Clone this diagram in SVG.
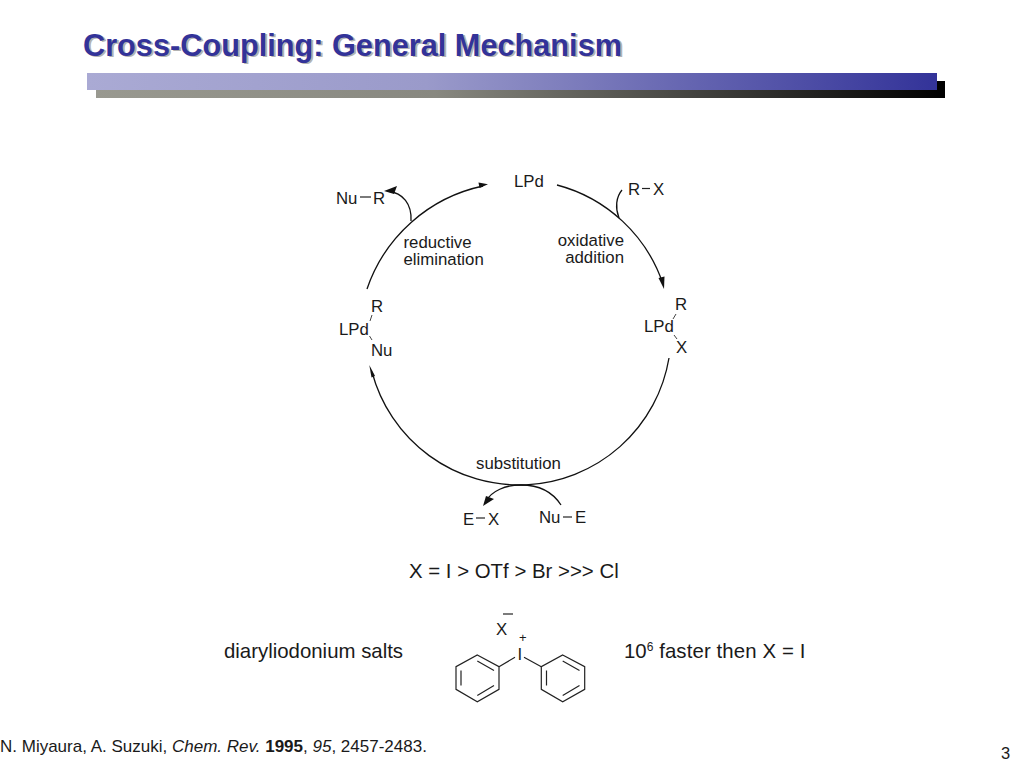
<svg xmlns="http://www.w3.org/2000/svg" width="1024" height="768" viewBox="0 0 1024 768">
<style>
text{font-family:"Liberation Sans",Arial,sans-serif;fill:#1a1a1a}
.s{font-size:16.800px}
.m{font-size:20.400px}
.l{fill:none;stroke:#111;stroke-width:1.3}
.b{fill:none;stroke:#222;stroke-width:1.2}
.t{fill:none;stroke:#444;stroke-width:1}
.h{fill:#111}
</style>
<defs>
<linearGradient id="g1"><stop offset="0" stop-color="#aaaad4"/><stop offset=".4" stop-color="#9a9aca"/><stop offset="1" stop-color="#333399"/></linearGradient>
<linearGradient id="g2"><stop offset="0" stop-color="#999990"/><stop offset=".4" stop-color="#888880"/><stop offset="1" stop-color="#000"/></linearGradient>
</defs>
<g id="title">
<text x="85" y="57" font-size="32" font-weight="bold" style="fill:#9a9a9a" opacity=".75" textLength="539" lengthAdjust="spacingAndGlyphs">Cross-Coupling: General Mechanism</text>
<text x="83" y="56" font-size="32" font-weight="bold" style="fill:#333399" textLength="539" lengthAdjust="spacingAndGlyphs">Cross-Coupling: General Mechanism</text>
</g>
<g id="title-bar">
<rect x="96" y="81" width="849" height="17" fill="url(#g2)"/>
<rect x="87" y="73" width="850" height="17" fill="url(#g1)"/>
</g>
<g id="connectors">
<path class="l" d="M367 289A157 157 0 0 1 483 186"/>
<path class="h" d="M478.500 182.500L488 184.300 479.500 188Z"/>
<path class="l" d="M557 185A153 153 0 0 1 663 284"/>
<path class="h" d="M658.500 278L664 289 664.500 276.500Z"/>
<path class="l" d="M669 358A152.100 152.100 0 0 1 372 372"/>
<path class="h" d="M369.300 365L371.500 377.500 375 376Z"/>
<path class="l" d="M411 221C412 204 403 193 388 191"/>
<path class="h" d="M384 191L397 186 394 194Z"/>
<path class="l" d="M622 190C616 197 615 208 619 218"/>
<path class="l" d="M561 505C552 491 537 485 521 485C505 485 492 491 486 501"/>
<path class="h" d="M483 506L494 499 486 496Z"/>
</g>
<g id="lpd-top"><text class="s" x="514" y="187">LPd</text></g>
<g id="rx">
<text class="s" x="628" y="194.500">R</text><path class="b" d="M642 188.500H650"/><text class="s" x="653" y="194.500">X</text>
</g>
<g id="nur">
<text class="s" x="336" y="204">Nu</text><path class="b" d="M360 197H371"/><text class="s" x="373" y="204">R</text>
</g>
<g id="oxidative-addition">
<text class="s" x="624" y="246" text-anchor="end">oxidative</text>
<text class="s" x="624" y="263" text-anchor="end">addition</text>
</g>
<g id="reductive-elimination">
<text class="s" x="403.500" y="248">reductive</text>
<text class="s" x="403.500" y="265">elimination</text>
</g>
<g id="lpd-right">
<text class="s" x="675" y="310">R</text><text class="s" x="644" y="332">LPd</text><text class="s" x="676" y="353">X</text>
<path class="t" d="M673 319L676 314M674 335L677 339"/>
</g>
<g id="lpd-left">
<text class="s" x="371" y="312">R</text><text class="s" x="339" y="335">LPd</text><text class="s" x="371" y="356">Nu</text>
<path class="t" d="M370 321L372 315M369.500 336L372 340"/>
</g>
<g id="substitution"><text class="s" x="476" y="469">substitution</text></g>
<g id="ex">
<text class="s" x="463" y="525">E</text><path class="b" d="M476 518H485"/><text class="s" x="488" y="525">X</text>
</g>
<g id="nue">
<text class="s" x="539" y="523">Nu</text><path class="b" d="M563 517H572"/><text class="s" x="575" y="523">E</text>
</g>
<g id="selectivity"><text class="m" x="409" y="578">X = I &gt; OTf &gt; Br &gt;&gt;&gt; Cl</text></g>
<g id="salts-label"><text class="m" x="224" y="658">diaryliodonium salts</text></g>
<g id="rate-label"><text class="m" x="624" y="658">10<tspan font-size="12" dy="-7">6</tspan><tspan dy="7" textLength="152"> faster then X = I</tspan></text></g>
<g id="iodonium">
<text class="s" x="496" y="635">X</text>
<path class="b" d="M503 614H513"/>
<text x="519" y="642" font-size="13">+</text>
<text class="s" x="517.500" y="660">I</text>
<path class="b" d="M499 666.700L515 657.300M524 657.300L541.300 666.700"/>
<path class="b" d="M477.300 655L499 666.700V689.300L477.300 701.700L456 689.300V666.700Z"/>
<path class="b" d="M477.300 661L494 670.500M494 685.500L477.300 695.500M461 685.500V670.500"/>
<path class="b" d="M562.700 655L584.700 666.700V689.300L562.700 701.700L541.300 689.300V666.700Z"/>
<path class="b" d="M562.700 661L579.500 670.500M579.500 685.500L562.700 695.500M546.500 685.500V670.500"/>
</g>
<g id="citation"><text x="0" y="752" font-size="17">N. Miyaura, A. Suzuki, <tspan font-style="italic">Chem. Rev.</tspan> <tspan font-weight="bold">1995</tspan>, <tspan font-style="italic">95</tspan>, 2457-2483.</text></g>
<g id="page"><text x="1001" y="759" font-size="16.500">3</text></g>
</svg>
